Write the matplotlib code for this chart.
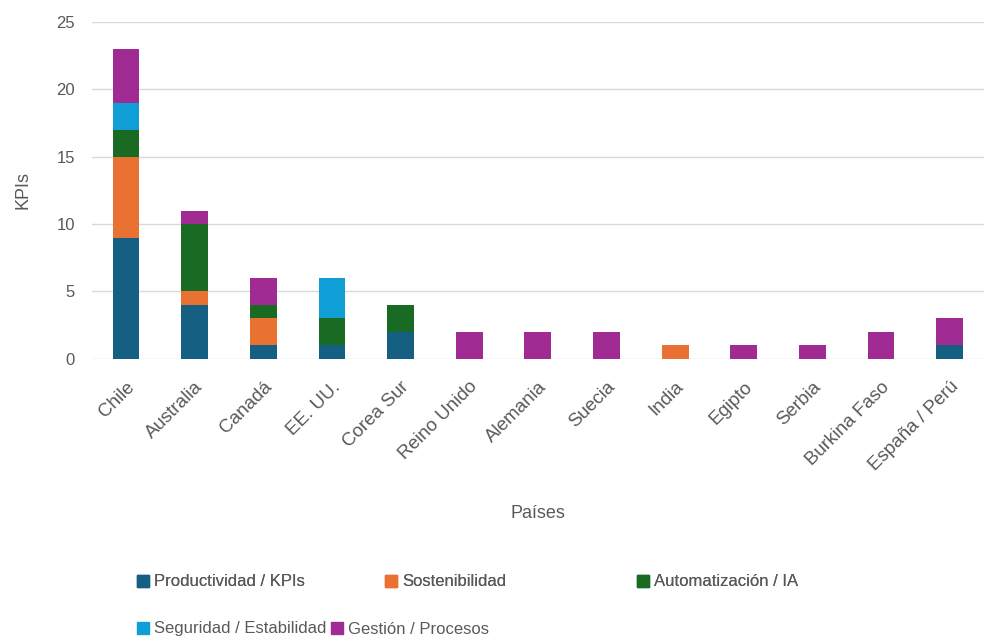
import numpy as np
import matplotlib
matplotlib.use('Agg')
import matplotlib.pyplot as plt
from matplotlib.patches import Patch

# ── datos ─────────────────────────────────────────────────
paises = ['Chile', 'Australia', 'Canadá', 'EE. UU.', 'Corea Sur', 'Reino Unido',
          'Alemania', 'Suecia', 'India', 'Egipto', 'Serbia', 'Burkina Faso',
          'España / Perú']
productividad = [9, 4, 1, 1, 2, 0, 0, 0, 0, 0, 0, 0, 1]
sostenibilidad = [6, 1, 2, 0, 0, 0, 0, 0, 1, 0, 0, 0, 0]
automatizacion = [2, 5, 1, 2, 2, 0, 0, 0, 0, 0, 0, 0, 0]
seguridad = [2, 0, 0, 3, 0, 0, 0, 0, 0, 0, 0, 0, 0]
gestion = [4, 1, 2, 0, 0, 2, 2, 2, 0, 1, 1, 2, 2]

series = [
    ('Productividad / KPIs', productividad, '#156082'),
    ('Sostenibilidad', sostenibilidad, '#E97132'),
    ('Automatización / IA', automatizacion, '#196B24'),
    ('Seguridad / Estabilidad', seguridad, '#0F9ED5'),
    ('Gestión / Procesos', gestion, '#A02B93'),
]

plt.rcParams['font.family'] = ['Liberation Sans', 'DejaVu Sans']
GRIS = '#595959'

fig = plt.figure(figsize=(9.86, 6.42), dpi=100)
ax = fig.add_axes([0.093, 0.441, 0.905, 0.525])

x = np.arange(len(paises))
bottom = np.zeros(len(paises))
for nombre, vals, color in series:
    vals = np.array(vals, dtype=float)
    ax.bar(x, vals, width=0.39, bottom=bottom, color=color, label=nombre, zorder=3)
    bottom += vals

ax.set_xlim(-0.5, len(paises) - 0.5)
ax.set_ylim(0, 25)
ax.set_yticks(range(0, 26, 5))
ax.set_xticks(x)
ax.set_xticklabels(paises, rotation=45, ha='right', rotation_mode='anchor',
                   fontsize=13.5)
ax.tick_params(axis='both', length=0, colors=GRIS)
ax.tick_params(axis='y', labelsize=12, pad=12)
ax.tick_params(axis='x', pad=14)
ax.grid(axis='y', color='#D9D9D9', linewidth=1, zorder=0)
for s in ax.spines.values():
    s.set_visible(False)

ax.set_xlabel('Países', fontsize=13, color=GRIS, labelpad=22)
ax.set_ylabel('KPIs', fontsize=13, color=GRIS, labelpad=18)

# leyenda en dos filas (como en Excel)
handles = [Patch(color=c, label=n) for n, _, c in series]
kw = dict(frameon=False, fontsize=12, handlelength=0.7, handleheight=0.7,
          handletextpad=0.3, borderpad=0, labelcolor=GRIS, loc='center left')
fila1_y = 1 - 582 / 642
for h, xpos in zip(handles[:3], [129, 377, 629]):
    fig.add_artist(fig.legend(handles=[h], bbox_to_anchor=(xpos / 986, fila1_y), **kw))
fig.legend(handles=handles[3:], ncol=2, bbox_to_anchor=(129 / 986, 1 - 629 / 642),
           columnspacing=0.3, **kw)

fig.savefig('out.png', dpi=100)
